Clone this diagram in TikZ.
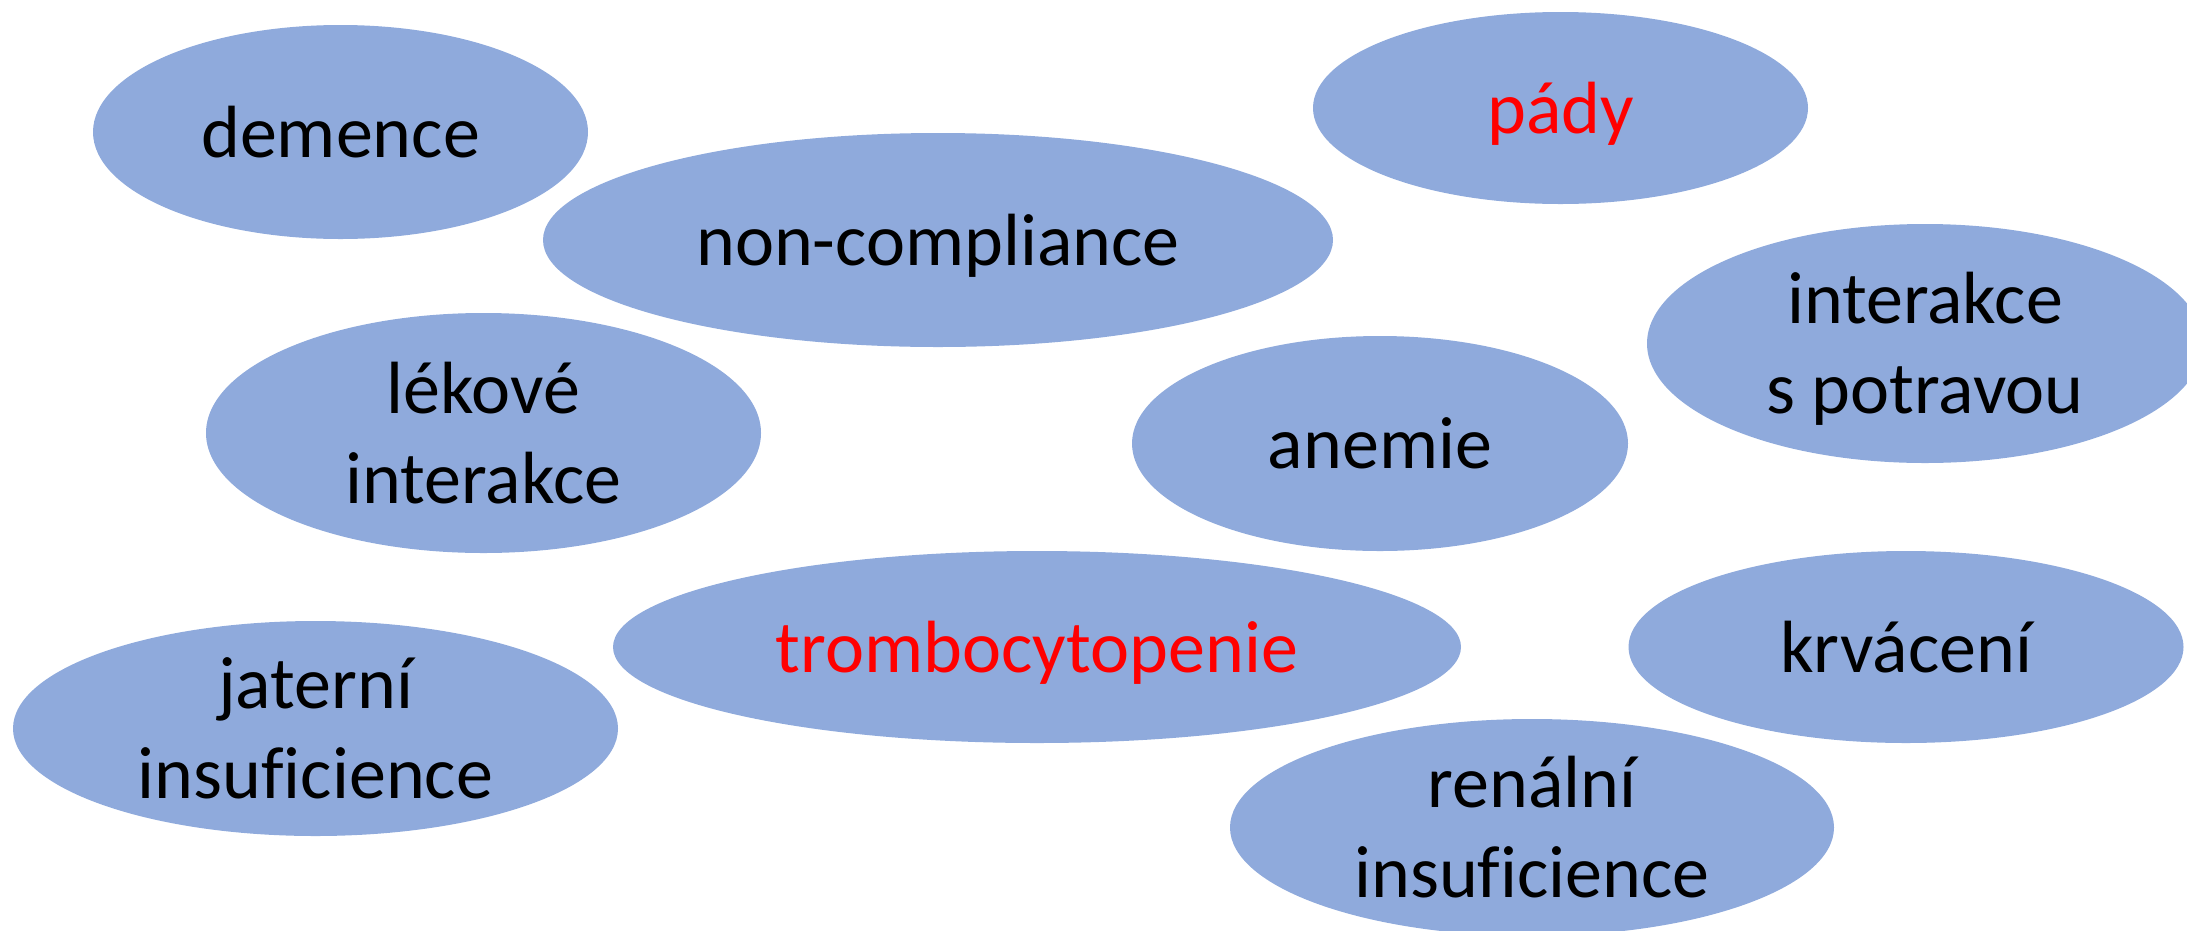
\documentclass[tikz,border=0pt]{standalone}
\usepackage{fontspec}
\setmainfont{Carlito}[Ligatures=NoCommon]
\usetikzlibrary{shapes.geometric}
\definecolor{bubblecol}{HTML}{8FAADC}
\definecolor{redtext}{HTML}{FF0000}
\begin{document}
\begin{tikzpicture}[x=1pt,y=-1pt,
  bubble/.style={ellipse, fill=bubblecol, draw=none, inner sep=0pt},
  lbl/.style={anchor=base, align=center, inner sep=0pt, font=\fontsize{74pt}{90pt}\selectfont, text=black},
  hot/.style={lbl, text=redtext}]
\useasboundingbox (0,0) rectangle (2187,930);
\clip (0,0) rectangle (2187,930);
% ellipses
\node[bubble, minimum width=495pt, minimum height=214pt] (e1) at (340.5,132) {};
\node[bubble, minimum width=790pt, minimum height=214pt] (e2) at (938,240) {};
\node[bubble, minimum width=495pt, minimum height=192pt] (e3) at (1560.5,108) {};
\node[bubble, minimum width=556pt, minimum height=239pt] (e4) at (1925,343.5) {};
\node[bubble, minimum width=555pt, minimum height=240pt] (e5) at (483.5,433) {};
\node[bubble, minimum width=496pt, minimum height=215pt] (e6) at (1380,443.5) {};
\node[bubble, minimum width=848pt, minimum height=192pt] (e7) at (1037,647) {};
\node[bubble, minimum width=555pt, minimum height=192pt] (e8) at (1906,647) {};
\node[bubble, minimum width=605pt, minimum height=215pt] (e9) at (315.5,728.5) {};
\node[bubble, minimum width=604pt, minimum height=217pt] (e10) at (1532,827.5) {};
% labels (single line: baseline 25 below centre; two lines: last baseline 70 below centre)
\node[lbl] (t1) at ([yshift=-25pt]e1.center) {demence};
\node[lbl] (t2) at ([yshift=-25pt]e2.center) {non-compliance};
\node[hot] (t3) at ([yshift=-25pt]e3.center) {pády};
\node[lbl] (t4) at ([yshift=-70pt]e4.center) {interakce\\s potravou};
\node[lbl] (t5) at ([yshift=-70pt]e5.center) {lékové\\interakce};
\node[lbl] (t6) at ([yshift=-25pt]e6.center) {anemie};
\node[hot] (t7) at ([yshift=-25pt]e7.center) {trombocytopenie};
\node[lbl] (t8) at ([yshift=-25pt]e8.center) {krvácení};
\node[lbl] (t9) at ([yshift=-70pt]e9.center) {jaterní\\insuficience};
\node[lbl] (t10) at ([yshift=-70pt]e10.center) {renální\\insuficience};
\end{tikzpicture}
\end{document}
